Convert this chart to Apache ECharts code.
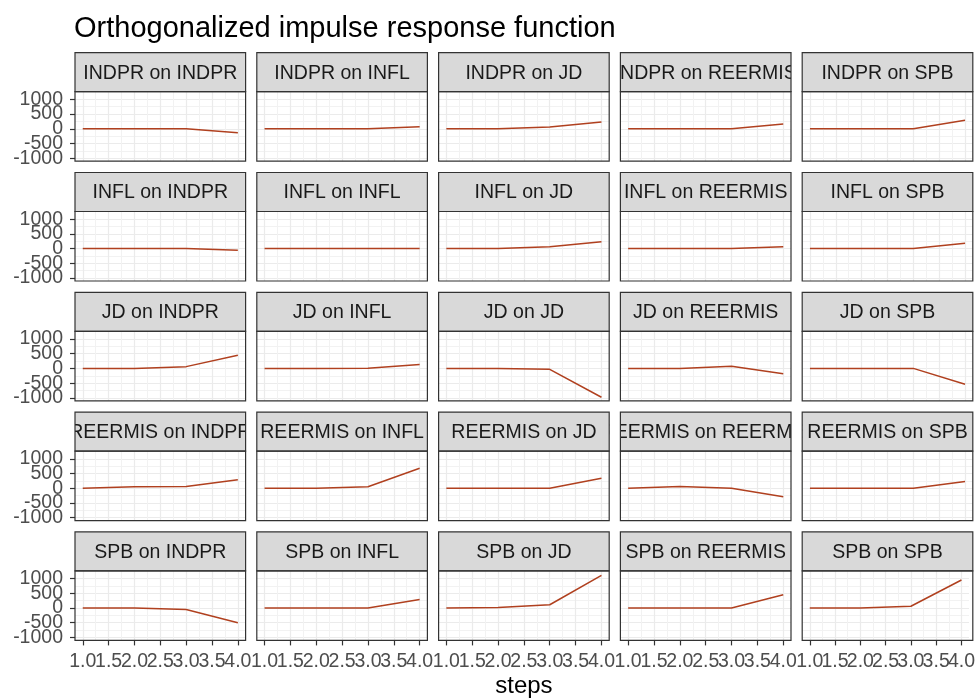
<!DOCTYPE html>
<html>
<head>
<meta charset="utf-8">
<script src="https://cdn.jsdelivr.net/npm/echarts@6/dist/echarts.min.js"></script>
<style>
    html, body { margin: 0; padding: 0; background: #fff; }
    #chart { width: 978px; height: 698px; }
</style>
</head>
<body>
<div id="chart"></div>
<script>
    // impulse variables (rows) and response variables (columns)
    const variables = ['INDPR', 'INFL', 'JD', 'REERMIS', 'SPB'];
    const steps = [1, 2, 3, 4];
    // tick labels are split over two axes so that none of them gets dropped for overlapping
    const xTicksWhole = [1.0, 2.0, 3.0, 4.0];
    const xTicksHalf = [1.5, 2.5, 3.5];
    const xMinor = [1.25, 1.75, 2.25, 2.75, 3.25, 3.75];
    const yTicksA = [-1000, 0, 1000];
    const yTicksB = [-500, 500];
    const yMinor = [-750, -250, 250, 750];

    // one row per response: INDPR, INFL, JD, REERMIS, SPB
    const irfINDPR = [
        [0, 0, 0, -130],
        [0, 0, 0, 70],
        [0, 0, 60, 230],
        [0, 0, 0, 160],
        [0, 0, 0, 290]
    ];
    const irfINFL = [
        [0, 0, 0, -60],
        [0, 0, 0, 0],
        [0, 0, 60, 230],
        [0, 0, 0, 60],
        [0, 0, 0, 180]
    ];
    const irfJD = [
        [0, 0, 60, 450],
        [0, 0, 5, 130],
        [0, 0, -30, -980],
        [0, 0, 70, -180],
        [0, 0, 0, -540]
    ];
    const irfREERMIS = [
        [0, 50, 55, 290],
        [0, 0, 50, 680],
        [0, 0, 0, 340],
        [0, 60, 0, -290],
        [0, 0, 0, 230]
    ];
    const irfSPB = [
        [0, 0, -50, -500],
        [0, 0, 0, 290],
        [0, 20, 110, 1110],
        [0, 0, 0, 450],
        [0, 0, 60, 950]
    ];
    const irf = [irfINDPR, irfINFL, irfJD, irfREERMIS, irfSPB];

    // layout of the facets
    const panelLeft0 = 75;
    const colStep = 181.8;
    const panelW = 170.6;
    const stripTop0 = 52.7;
    const rowStep = 119.8;
    const stripH = 39;
    const panelH = 69.5;
    const xMin = 0.85, xMax = 4.15;
    const yMin = -1100, yMax = 1260;
    const font = '"Liberation Sans", Arial, sans-serif';
    const stripFont = `19.5px ${font}`;
    const lineColor = '#b0401f';

    const measure = document.createElement('canvas').getContext('2d');
    measure.font = stripFont;

    function makeAxis(k, dim, values, withLabels, major) {
        const isX = dim === 'x';
        return {
            type: 'value',
            gridIndex: k,
            position: isX ? 'bottom' : 'left',
            min: isX ? xMin : yMin,
            max: isX ? xMax : yMax,
            axisLine: { show: false, onZero: false },
            axisTick: {
                show: withLabels, customValues: values, length: 5,
                lineStyle: { color: '#333', width: 1.2 }
            },
            axisLabel: {
                show: withLabels, customValues: values,
                margin: isX ? 11 : 12,
                fontSize: 19.5, fontFamily: font, color: '#4d4d4d',
                formatter: isX ? (v => v.toFixed(1)) : (v => String(v))
            },
            splitLine: {
                show: true,
                lineStyle: major ? { color: '#ebebeb', width: 1.2 } : { color: '#f2f2f2', width: 1 }
            }
        };
    }

    const grids = [];
    const xAxes = [];
    const yAxes = [];
    const series = [];
    const graphics = [];

    variables.forEach((imp, r) => {
        const stripTop = stripTop0 + r * rowStep;
        variables.forEach((resp, c) => {
            const k = r * 5 + c;
            const left = panelLeft0 + c * colStep;
            const top = stripTop + stripH;
            const bottomRow = r === 4;
            const firstCol = c === 0;
            const label = `${imp} on ${resp}`;
            // strips whose text runs wide go underneath their neighbours
            const wide = measure.measureText(label).width > colStep + 8;
            const zBase = wide ? 10 : 12;

            grids.push({ left, top, width: panelW, height: panelH, show: false });

            xAxes.push(makeAxis(k, 'x', xTicksWhole, bottomRow, true));
            xAxes.push(makeAxis(k, 'x', xTicksHalf, bottomRow, true));
            xAxes.push(makeAxis(k, 'x', xMinor, false, false));
            yAxes.push(makeAxis(k, 'y', yTicksA, firstCol, true));
            yAxes.push(makeAxis(k, 'y', yTicksB, firstCol, true));
            yAxes.push(makeAxis(k, 'y', yMinor, false, false));

            series.push({
                type: 'line',
                xAxisIndex: 3 * k,
                yAxisIndex: 3 * k,
                data: steps.map((s, i) => [s, irf[r][c][i]]),
                showSymbol: false,
                silent: true,
                z: 5,
                lineStyle: { color: lineColor, width: 1.5 }
            });

            // strip
            graphics.push({
                type: 'rect', z: zBase, silent: true,
                shape: { x: left, y: stripTop, width: panelW, height: stripH },
                style: { fill: '#d9d9d9' }
            });
            graphics.push({
                type: 'text', z: zBase + 1, silent: true,
                style: {
                    text: label,
                    x: left + panelW / 2, y: stripTop + stripH / 2 + 1,
                    align: 'center', verticalAlign: 'middle',
                    font: stripFont, fill: '#1a1a1a'
                }
            });
            // borders
            graphics.push({
                type: 'rect', z: 20, silent: true,
                shape: { x: left, y: stripTop, width: panelW, height: stripH },
                style: { fill: null, stroke: '#333', lineWidth: 1.2 }
            });
            graphics.push({
                type: 'rect', z: 20, silent: true,
                shape: { x: left, y: top, width: panelW, height: panelH },
                style: { fill: null, stroke: '#333', lineWidth: 1.2 }
            });
        });

        // white covers clip strip text that runs past its strip
        for (let c = 0; c <= 5; c++) {
            const x0 = c === 0 ? 0 : panelLeft0 + (c - 1) * colStep + panelW;
            const x1 = c === 5 ? 978 : panelLeft0 + c * colStep;
            graphics.push({
                type: 'rect', z: 15, silent: true,
                shape: { x: x0, y: stripTop, width: x1 - x0, height: stripH - 2 },
                style: { fill: '#fff' }
            });
        }
    });

    graphics.push({
        type: 'text', z: 20, silent: true,
        style: {
            text: 'steps',
            x: panelLeft0 + (4 * colStep + panelW) / 2, y: 686,
            align: 'center', verticalAlign: 'middle',
            font: `24px ${font}`, fill: '#000'
        }
    });

    const chart = echarts.init(document.getElementById('chart'));
    chart.setOption({
        animation: false,
        backgroundColor: '#fff',
        textStyle: { fontFamily: font },
        title: {
            text: 'Orthogonalized impulse response function',
            left: 74, top: 14, padding: 0,
            textStyle: { fontSize: 29, fontWeight: 'normal', color: '#000', fontFamily: font }
        },
        grid: grids,
        xAxis: xAxes,
        yAxis: yAxes,
        series,
        graphic: graphics
    });
</script>
</body>
</html>
